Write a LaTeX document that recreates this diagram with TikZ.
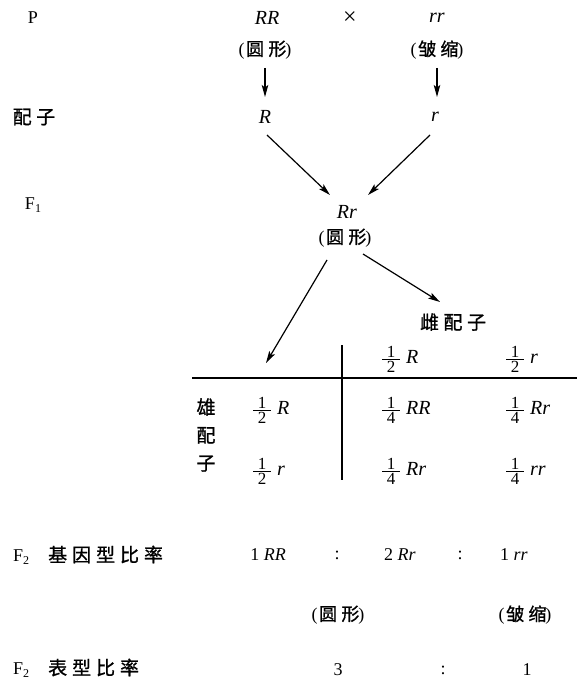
\documentclass[tikz,border=0pt]{standalone}
\usepackage{fontspec}
\setmainfont{Liberation Serif}
\newfontfamily\cjk[LetterSpace=24,FakeBold=1]{Noto Sans CJK SC}
\newfontfamily\cjkw[LetterSpace=26,FakeBold=1]{Noto Sans CJK SC}
\usetikzlibrary{arrows.meta,calc}
\newcommand\pz[1]{(\kern1.5pt{\cjk #1}\kern-1pt)}
\newcommand\sbs[1]{\raisebox{-0.3ex}{\fontsize{12}{12}\selectfont #1}}
% fraction drawn with nodes: name, x, y (bar), numerator, denominator, genotype
\newcommand\frc[6]{%
  \node[dig] (#1n) at (#2+9,#3-7) {#4};
  \node[dig] (#1d) at (#2+9,#3+7.5) {#5};
  \coordinate (#1a) at (#2,#3);
  \coordinate (#1b) at (#2+18,#3);
  \draw[fbar] (#1a) -- (#1b);
  \node[gen] (#1g) at (#2+24,#3+4) {\textit{#6}};
}
\tikzset{
  lat/.style={inner sep=0pt, font=\fontsize{18}{20}\selectfont},
  big/.style={inner sep=0pt, font=\fontsize{20}{22}\selectfont},
  zh/.style={inner sep=0pt, font=\fontsize{19}{28}\selectfont\cjk},
  dig/.style={inner sep=0pt, font=\fontsize{17}{17}\selectfont},
  gen/.style={inner sep=0pt, anchor=base west, font=\fontsize{20}{22}\selectfont},
  fbar/.style={line width=0.9pt},
  lab/.style={inner sep=0pt, anchor=west, font=\fontsize{18}{20}\selectfont},
  arr/.style={line width=1.2pt, -{Stealth[length=12pt,width=6.5pt,inset=2.5pt]}},
  rulel/.style={line width=1.4pt},
}
\begin{document}
\begin{tikzpicture}[x=1pt,y=-1pt]
\fill[white] (0,0) rectangle (581,682);
\useasboundingbox (0,0) rectangle (581,682);
% parents
\node[lat] (P) at (33,18) {P};
\node[big] (RR) at (267,18) {\textit{RR}};
\node[lat, font=\fontsize{24}{24}\selectfont] (X) at (350,18) {×};
\node[big] (rr) at (437,18) {\textit{rr}};
\node[lat] (pR) at (265,50) {\pz{圆形}};
\node[lat] (pr) at (437,50) {\pz{皱缩}};
% gametes
\node[zh] (gam) at (34,117) {配子};
\node[big] (R) at (265,117) {\textit{R}};
\node[big] (r) at (435,117) {\textit{r}};
% F1
\node[lat] (F1) at (33,205) {F\sbs{1}};
\node[big] (Rr) at (347,212) {\textit{Rr}};
\node[lat] (pRr) at (345,238) {\pz{圆形}};
\node[zh] (fem) at (453,322) {雌配子};
\coordinate (tipL) at (266,363);
% arrows
\draw[arr] ($(pR)+(0,18)$) -- ($(R)+(0,-20)$);
\draw[arr] ($(pr)+(0,18)$) -- ($(r)+(2,-20)$);
\draw[arr] ($(R)+(2,18)$) -- ($(Rr)+(-17,-17)$);
\draw[arr] ($(r)+(-5,18)$) -- ($(Rr)+(21,-17)$);
\draw[arr] ($(pRr)+(-18,22)$) -- (tipL);
\draw[arr] ($(pRr)+(18,16)$) -- ($(fem)+(-13,-20)$);
% table
\coordinate (hl) at (192,378);
\coordinate (hr) at (577,378);
\coordinate (vt) at (342,345);
\coordinate (vb) at (342,480);
\draw[rulel] (hl) -- (hr);
\draw[rulel] (vt) -- (vb);
\frc{h1}{382}{359}{1}{2}{R}
\frc{h2}{506}{359}{1}{2}{r}
\node[zh, align=center] (male) at (206,435) {雄\\配\\子};
\frc{m1}{253}{410}{1}{2}{R}
\frc{m2}{253}{471}{1}{2}{r}
\frc{c11}{382}{410}{1}{4}{RR}
\frc{c12}{506}{410}{1}{4}{Rr}
\frc{c21}{382}{471}{1}{4}{Rr}
\frc{c22}{506}{471}{1}{4}{rr}
% F2 genotype
\node[lab] (g) at (13,555) {F\sbs{2}\hspace{19pt}{\cjkw\fontsize{19}{20}\selectfont 基因型比率}};
\node[lat] (g1) at (268,555) {1 \textit{RR}};
\node[lat] (gc1) at (337,555) {:};
\node[lat] (g2) at (400,555) {2 \textit{Rr}};
\node[lat] (gc2) at (460,555) {:};
\node[lat] (g3) at (514,555) {1 \textit{rr}};
\node[lat] (ph1) at (338,615) {\pz{圆形}};
\node[lat] (ph2) at (525,615) {\pz{皱缩}};
% F2 phenotype
\node[lab] (f) at (13,668) {F\sbs{2}\hspace{19pt}{\cjkw\fontsize{19}{20}\selectfont 表型比率}};
\node[lat] (n3) at (338,670) {3};
\node[lat] (nc) at (443,670) {:};
\node[lat] (n1) at (527,670) {1};
\end{tikzpicture}
\end{document}
